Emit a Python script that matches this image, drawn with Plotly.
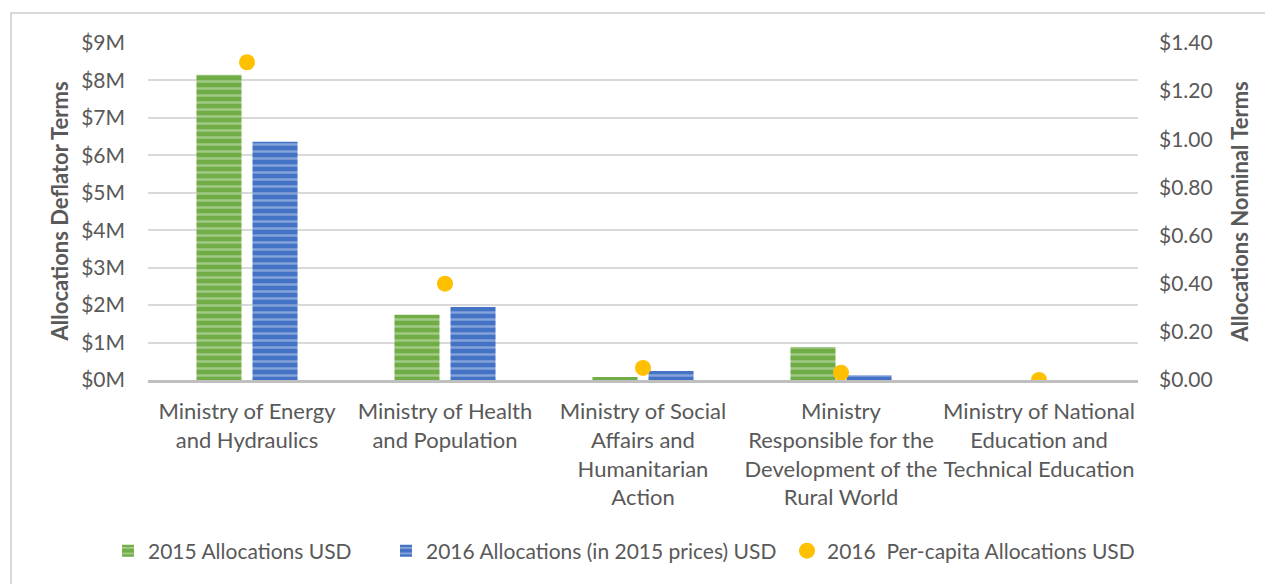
import plotly.graph_objects as go

categories = [
    "Ministry of Energy<br>and Hydraulics",
    "Ministry of Health<br>and Population",
    "Ministry of Social<br>Affairs and<br>Humanitarian<br>Action",
    "Ministry<br>Responsible for the<br>Development of the<br>Rural World",
    "Ministry of National<br>Education and<br>Technical Education",
]
alloc_2015 = [8.15e6, 1.74e6, 0.08e6, 0.88e6, 0.0]
alloc_2016 = [6.36e6, 1.95e6, 0.24e6, 0.13e6, 0.0]
percap_2016 = [1.32, 0.40, 0.05, 0.03, 0.0]

left_ticks = [i * 1e6 for i in range(10)]
left_labels = [f"${i}M" for i in range(10)]
right_ticks = [i * 0.2 for i in range(8)]
right_labels = [f"${v:.2f}" for v in right_ticks]

FONT = "Lato"
TXT = "#595959"

fig = go.Figure()
fig.add_trace(go.Bar(
    x=categories, y=alloc_2015, name="2015 Allocations USD", legend="legend",
    marker=dict(color="#70AD47", line=dict(width=0),
                pattern=dict(shape="-", fgcolor="#D3E6C4", bgcolor="#70AD47",
                             size=7, solidity=0.35)),
))
fig.add_trace(go.Bar(
    x=categories, y=alloc_2016, name="2016 Allocations (in 2015 prices) USD",
    legend="legend2",
    marker=dict(color="#4472C4", line=dict(width=0),
                pattern=dict(shape="-", fgcolor="#C5D3EE", bgcolor="#4472C4",
                             size=7, solidity=0.35)),
))
fig.add_trace(go.Scatter(
    x=categories, y=percap_2016, name="2016  Per-capita Allocations USD",
    mode="markers", yaxis="y2", legend="legend3",
    marker=dict(color="#FFC000", size=16),
))

def leg(x):
    return dict(orientation="h", xref="container", yref="container",
                x=x, xanchor="left", y=0.0702, yanchor="middle",
                font=dict(size=21, color=TXT), itemwidth=30,
                bgcolor="rgba(0,0,0,0)")

fig.update_layout(
    width=1273, height=584,
    margin=dict(l=140, r=143, t=35, b=212),
    paper_bgcolor="white", plot_bgcolor="white",
    font=dict(family=FONT, size=21, color=TXT),
    barmode="group", bargap=0.434, bargroupgap=0.196,
    showlegend=True,
    legend=leg(100 / 1273),
    legend2=leg(378 / 1273),
    legend3=leg(779 / 1273),
    xaxis=dict(showgrid=False, showline=True, linecolor="#BFBFBF", linewidth=3,
               ticks="", tickfont=dict(size=22, color=TXT), tickangle=0,
               ticklabelstandoff=10),
    yaxis=dict(range=[0, 9e6], tickvals=left_ticks, ticktext=left_labels,
               showgrid=True, gridcolor="#D9D9D9", gridwidth=2, zeroline=False,
               showline=False, ticks="", ticklabelstandoff=22,
               tickfont=dict(size=21, color=TXT)),
    yaxis2=dict(range=[0, 1.4], tickvals=right_ticks, ticktext=right_labels,
                overlaying="y", side="right", showgrid=False, zeroline=False,
                showline=False, ticks="", ticklabelstandoff=20,
                tickfont=dict(size=21, color=TXT)),
    annotations=[
        dict(text="<b>Allocations Deflator Terms</b>", textangle=-90,
             xref="paper", yref="paper", x=-0.089, y=0.5,
             xanchor="center", yanchor="middle", showarrow=False,
             font=dict(size=22, color=TXT)),
        dict(text="<b>Allocations Nominal Terms</b>", textangle=-90,
             xref="paper", yref="paper", x=1.103, y=0.5,
             xanchor="center", yanchor="middle", showarrow=False,
             font=dict(size=22, color=TXT)),
    ],
    shapes=[dict(type="rect", xref="paper", yref="paper",
                 x0=-0.1384, x1=1.3, y0=-0.8, y1=1.089,
                 line=dict(color="#D9D9D9", width=2), fillcolor="rgba(0,0,0,0)",
                 layer="below")],
)

fig.write_html("out.html")
